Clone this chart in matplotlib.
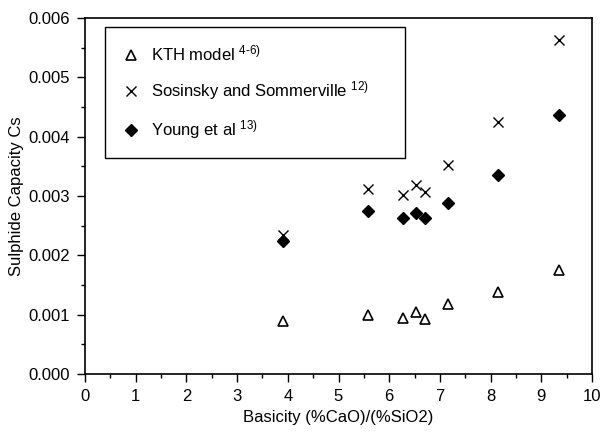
import matplotlib
matplotlib.use("Agg")
import matplotlib.pyplot as plt
from matplotlib.ticker import MultipleLocator, FormatStrFormatter

plt.rcParams['font.family'] = ['Liberation Sans', 'DejaVu Sans']
plt.rcParams['mathtext.fontset'] = 'custom'
plt.rcParams['mathtext.rm'] = 'Liberation Sans'
plt.rcParams['mathtext.it'] = 'Liberation Sans'

basicity = [3.9, 5.59, 6.28, 6.53, 6.70, 7.15, 8.15, 9.35]
kth = [0.00090, 0.00099, 0.00095, 0.00104, 0.00092, 0.00118, 0.00138, 0.00176]
sosinsky = [0.00234, 0.00311, 0.00301, 0.00319, 0.00306, 0.00353, 0.00425, 0.00563]
young = [0.00224, 0.00274, 0.00263, 0.00272, 0.00263, 0.00288, 0.00335, 0.00436]

labels = [r'KTH model $^{\mathregular{4\text{-}6)}}$',
          r'Sosinsky and Sommerville $^{\mathregular{12)}}$',
          r'Young et al $^{\mathregular{13)}}$']

fig = plt.figure(figsize=(6.03, 4.33), dpi=100)
ax = fig.add_axes([85 / 603, 59 / 433, 507 / 603, 356 / 433])

ax.plot(basicity, kth, linestyle='none', marker='^', markersize=6.5,
        markerfacecolor='white', markeredgecolor='black', markeredgewidth=1.2, label=labels[0])
ax.plot(basicity, sosinsky, linestyle='none', marker='x', markersize=7,
        color='black', markeredgewidth=1.0, label=labels[1])
ax.plot(basicity, young, linestyle='none', marker='D', markersize=6,
        color='black', label=labels[2])

ax.set_xlim(0, 10)
ax.set_ylim(0, 0.006)
ax.xaxis.set_major_locator(MultipleLocator(1))
ax.xaxis.set_minor_locator(MultipleLocator(0.5))
ax.yaxis.set_major_locator(MultipleLocator(0.001))
ax.yaxis.set_minor_locator(MultipleLocator(0.0005))
ax.yaxis.set_major_formatter(FormatStrFormatter('%.3f'))
ax.tick_params(which='major', direction='out', length=6, width=1, labelsize=12, pad=5,
               top=False, right=False)
ax.tick_params(which='minor', direction='out', length=3, width=1, top=False, right=False)
ax.tick_params(axis='x', which='major', pad=5)
for s in ax.spines.values():
    s.set_linewidth(1.2)

ax.set_xlabel('Basicity (%CaO)/(%SiO2)', fontsize=12, labelpad=4)
ax.set_ylabel('Sulphide Capacity Cs', fontsize=12, labelpad=3)

leg = ax.legend(loc='upper left', bbox_to_anchor=(0.039, 0.638, 0.592, 0.337), mode='expand',
                fontsize=12, frameon=True, fancybox=False, edgecolor='black', framealpha=1,
                labelspacing=0.95, borderpad=1.0, handletextpad=0.6, handlelength=1.2,
                borderaxespad=0)
leg.get_frame().set_linewidth(1.0)

fig.savefig('out.png', dpi=100)
